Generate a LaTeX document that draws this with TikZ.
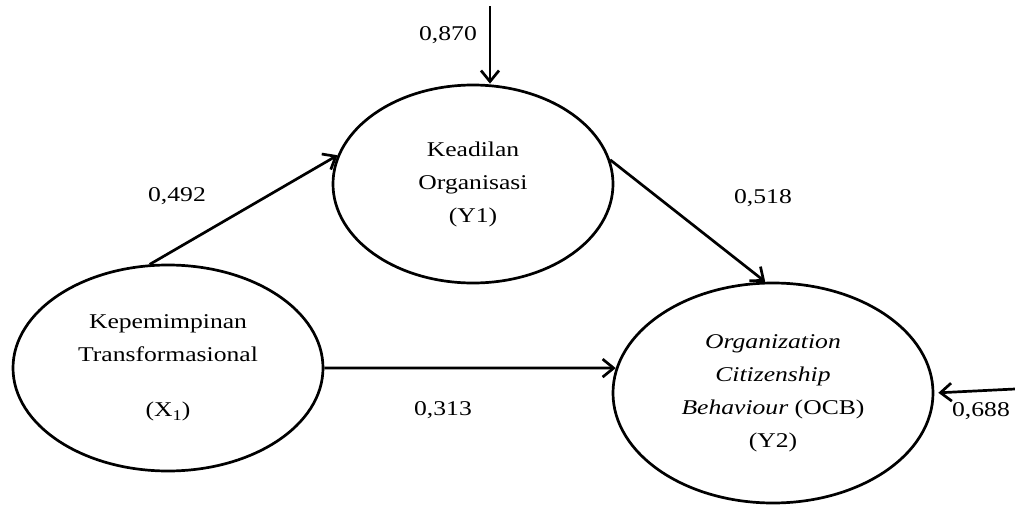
\documentclass[tikz,border=0pt]{standalone}
\usepackage{fontspec}
\setmainfont{Liberation Serif}[FakeStretch=1.22]
\usetikzlibrary{shapes.geometric,arrows.meta}
\newcommand{\subone}{\raisebox{-4pt}{\fontsize{15}{15}\selectfont 1}}
\tikzset{
  latent/.style={draw, ellipse, line width=2.7pt, inner sep=0pt, align=center,
    font=\fontsize{21}{33}\selectfont},
  path/.style={draw, line width=2.7pt, -{Straight Barb[length=11pt,width=18pt,line width=2.7pt]}},
  coef/.style={font=\fontsize{21}{25}\selectfont, inner sep=0pt}
}
\begin{document}
\begin{tikzpicture}[x=1pt, y=-1pt]
\useasboundingbox (0,0) rectangle (1015,506);
% latent variables
\node[latent, minimum width=310pt, minimum height=206pt] (x1) at (168,368)
  {Kepemimpinan\\Transformasional\\[22pt](X\subone)};
\node[latent, minimum width=280pt, minimum height=198pt] (y1) at (473,184)
  {Keadilan\\Organisasi\\(Y1)};
\node[latent, minimum width=320pt, minimum height=220pt] (y2) at (773,393)
  {\textit{Organization}\\\textit{Citizenship}\\\textit{Behaviour} (OCB)\\(Y2)};
% error terms
\coordinate (e1) at (490,6);
\coordinate (e2) at (1015,389);
% structural paths
\draw[path] (x1.100) -- (y1.168);
\draw[path] (y1.10) -- (y2.94);
\draw[path] (x1.east) -- (y2.171);
\draw[path] (e1) -- (e1 |- y1.north);
\draw[path, shorten >=4pt] (e2) -- (y2.east);
% path coefficients
\node[coef] (c870) at (448,35) {0,870};
\node[coef] (c492) at (177,196) {0,492};
\node[coef] (c518) at (763,198) {0,518};
\node[coef] (c313) at (443,410) {0,313};
\node[coef] (c688) at (981,411) {0,688};
\end{tikzpicture}
\end{document}
